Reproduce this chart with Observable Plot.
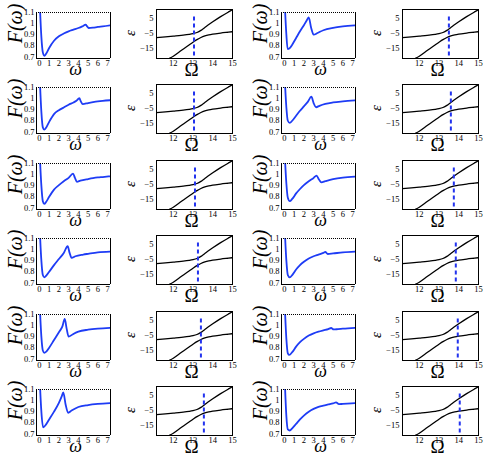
<!DOCTYPE html>
<html><head><meta charset="utf-8">
<script src="https://cdn.jsdelivr.net/npm/d3@7"></script>
<script src="https://cdn.jsdelivr.net/npm/@observablehq/plot@0.6"></script>
<style>
body{margin:0;background:#fff;}
#root{position:relative;width:484px;height:453px;overflow:hidden;background:#fff;}
#root svg{position:absolute;overflow:visible;background:transparent;}
</style></head><body><div id="root"></div>
<script>
// ---- tick labels ----
const omegaTicks = [0,1,2,3,4,5,6,7];
const fTicks = [0.7,0.8,0.9,1,1.1];
const bigOmegaTicks = [12,13,14,15];
const epsTicks = [5,-5,-15];

// ---- avoided-crossing branches (same in every ε panel) ----
const upperOmega = [11.15, 11.6, 12.0, 12.4, 12.8, 13.0, 13.2, 13.4, 13.6, 13.8, 14.0, 14.4, 14.8, 15.0];
const upperEps   = [-8.0, -7.5, -7.0, -6.5, -5.9, -5.4, -4.6, -3.2, -1.3, 0.6, 2.4, 5.8, 8.9, 10.4];
const lowerOmega = [11.8, 12.0, 12.4, 12.8, 13.0, 13.2, 13.4, 13.6, 13.8, 14.0, 14.4, 14.8, 15.0];
const lowerEps   = [-21.6, -20.2, -16.5, -12.8, -11.0, -9.3, -7.9, -6.9, -6.2, -5.7, -5.0, -4.4, -4.1];

// ---- dashed marker positions (Ω) per row ----
const dashCol2 = [13.05, 13.05, 13.1, 13.25, 13.4, 13.55];
const dashCol4 = [13.5, 13.6, 13.75, 13.85, 13.95, 14.05];

// ---- F(ω) curves, column 1 ----
const w11 = [0.05,0.2,0.35,0.5,0.7,1.0,1.5,2.0,2.5,3.0,3.5,4.0,4.4,4.75,4.9,5.05,5.5,6.0,6.5,7.3];
const F11 = [1.15,0.88,0.74,0.71,0.73,0.78,0.845,0.885,0.91,0.93,0.945,0.96,0.975,0.99,0.975,0.96,0.963,0.97,0.975,0.985];
const w21 = [0.05,0.2,0.35,0.5,0.7,1.0,1.5,2.0,2.5,3.0,3.5,3.8,4.1,4.25,4.45,5.0,5.5,6.0,6.5,7.3];
const F21 = [1.15,0.88,0.74,0.72,0.74,0.79,0.86,0.895,0.92,0.945,0.965,0.98,1.003,0.975,0.95,0.96,0.968,0.975,0.98,0.985];
const w31 = [0.05,0.2,0.35,0.5,0.7,1.0,1.5,2.0,2.5,3.0,3.45,3.65,3.85,4.2,5.0,5.5,6.0,6.5,7.3];
const F31 = [1.15,0.9,0.76,0.735,0.755,0.8,0.865,0.905,0.94,0.97,1.008,0.97,0.935,0.945,0.96,0.968,0.974,0.978,0.985];
const w41 = [0.05,0.2,0.35,0.5,0.7,1.0,1.5,2.0,2.5,2.9,3.1,3.3,3.7,4.5,5.0,6.0,7.3];
const F41 = [1.15,0.9,0.77,0.75,0.765,0.8,0.86,0.915,0.97,1.03,0.97,0.925,0.94,0.955,0.962,0.975,0.982];
const w51 = [0.05,0.2,0.35,0.5,0.7,1.0,1.5,2.0,2.35,2.6,2.8,3.0,3.4,4.0,5.0,6.0,7.3];
const F51 = [1.15,0.9,0.775,0.755,0.765,0.8,0.87,0.94,0.99,1.06,0.97,0.9,0.92,0.945,0.963,0.973,0.98];
const w61 = [0.05,0.2,0.38,0.6,1.0,1.5,2.0,2.3,2.45,2.7,2.95,3.3,4.0,5.0,6.0,7.3];
const F61 = [1.15,0.9,0.758,0.775,0.83,0.9,0.98,1.04,1.074,0.96,0.89,0.91,0.942,0.96,0.97,0.977];

// ---- F(ω) curves, column 3 ----
const w13 = [0.05,0.2,0.33,0.5,0.8,1.2,1.6,2.0,2.3,2.5,2.75,3.0,3.4,4.0,5.0,6.0,7.3];
const F13 = [1.15,0.9,0.77,0.775,0.81,0.87,0.93,0.985,1.03,1.055,0.96,0.9,0.915,0.94,0.962,0.975,0.985];
const w23 = [0.05,0.2,0.35,0.55,0.8,1.2,1.6,2.0,2.4,2.77,3.0,3.25,3.6,4.2,5.0,6.0,7.3];
const F23 = [1.15,0.92,0.8,0.78,0.8,0.845,0.89,0.93,0.97,1.017,0.96,0.922,0.935,0.952,0.965,0.975,0.985];
const w33 = [0.05,0.2,0.35,0.55,0.8,1.2,1.6,2.0,2.5,3.0,3.3,3.55,3.8,4.2,5.0,6.0,7.3];
const F33 = [1.15,0.92,0.79,0.76,0.78,0.83,0.87,0.905,0.94,0.97,0.99,0.955,0.93,0.94,0.958,0.972,0.982];
const w43 = [0.05,0.2,0.35,0.55,0.8,1.2,1.6,2.0,2.5,3.0,3.5,4.0,4.2,4.45,5.0,6.0,7.3];
const F43 = [1.15,0.9,0.77,0.75,0.77,0.82,0.86,0.89,0.92,0.94,0.955,0.97,0.978,0.96,0.965,0.975,0.982];
const w53 = [0.05,0.2,0.35,0.5,0.8,1.2,1.6,2.0,2.5,3.0,3.5,4.0,4.5,4.8,5.05,5.5,6.0,7.3];
const F53 = [1.15,0.88,0.75,0.735,0.76,0.81,0.85,0.88,0.91,0.93,0.945,0.957,0.968,0.978,0.965,0.968,0.972,0.98];
const w63 = [0.05,0.2,0.35,0.55,0.8,1.2,1.6,2.0,2.5,3.0,3.5,4.0,4.5,5.0,5.3,5.6,6.0,7.3];
const F63 = [1.15,0.86,0.74,0.73,0.75,0.79,0.83,0.865,0.9,0.925,0.943,0.955,0.965,0.975,0.983,0.968,0.97,0.977];

const col1 = [[w11,F11],[w21,F21],[w31,F31],[w41,F41],[w51,F51],[w61,F61]];
const col3 = [[w13,F13],[w23,F23],[w33,F33],[w43,F43],[w53,F53],[w63,F63]];

const root = document.getElementById("root");
const ROW = 75.4;
const SERIF = "'Liberation Serif', 'DejaVu Serif', serif";
const minusFmt = d => d < 0 ? "\u2212" + Math.abs(d) : String(d);

function place(svg, left, top) {
  svg.style.left = left + "px";
  svg.style.top = top + "px";
  root.appendChild(svg);
}

function fPanel([w, F], left, top) {
  const pts = w.map((x, i) => [x, F[i]]);
  const svg = Plot.plot({
    width: 122, height: 75,
    marginLeft: 36, marginRight: 12, marginTop: 12, marginBottom: 17,
    style: {fontFamily: SERIF, fontSize: "8.5px", background: "transparent", overflow: "visible", color: "black"},
    x: {domain: [-0.3, 7.3], ticks: omegaTicks, tickSize: 0, tickPadding: 1, label: null, tickFormat: d => String(d)},
    y: {domain: [0.685, 1.1], ticks: fTicks, tickSize: 0, tickPadding: 2, label: null, tickFormat: d => String(d)},
    marks: [
      Plot.line(pts, {stroke: "#1e3cf5", strokeWidth: 1.8, curve: "monotone-x", clip: true}),
      Plot.ruleX([-0.3], {stroke: "black", strokeWidth: 1}),
      Plot.ruleX([7.3], {stroke: "black", strokeWidth: 1}),
      Plot.ruleY([0.685], {stroke: "black", strokeWidth: 1}),
      Plot.ruleY([1.1], {stroke: "black", strokeWidth: 1.2, strokeDasharray: "1,1"}),
      Plot.text(["F(\u03c9)"], {frameAnchor: "left", textAnchor: "middle", lineAnchor: "middle", dx: -21, dy: -12, rotate: -90, fontSize: 20, fontStyle: "italic", fontFamily: SERIF, fill: "black"}),
      Plot.text(["\u03c9"], {frameAnchor: "bottom", textAnchor: "middle", lineAnchor: "middle", dx: 2, dy: 11, fontSize: 18, fontStyle: "italic", fontFamily: SERIF, fill: "black"})
    ]
  });
  place(svg, left, top);
}

function ePanel(dash, left, top) {
  const up = upperOmega.map((x, i) => [x, upperEps[i]]);
  const lo = lowerOmega.map((x, i) => [x, lowerEps[i]]);
  const svg = Plot.plot({
    width: 120, height: 75,
    marginLeft: 36, marginRight: 8, marginTop: 9, marginBottom: 17,
    style: {fontFamily: SERIF, fontSize: "8.5px", background: "transparent", overflow: "visible", color: "black"},
    x: {domain: [11.15, 15], ticks: bigOmegaTicks, tickSize: 0, tickPadding: 1, label: null, tickFormat: d => String(d)},
    y: {domain: [-21.7, 10.5], ticks: epsTicks, tickSize: 0, tickPadding: 3, label: null, tickFormat: minusFmt},
    marks: [
      Plot.line(up, {stroke: "black", strokeWidth: 1.3, curve: "monotone-x", clip: true}),
      Plot.line(lo, {stroke: "black", strokeWidth: 1.3, curve: "monotone-x", clip: true}),
      Plot.ruleX([dash], {y1: -20, y2: 5.5, stroke: "#2233ee", strokeWidth: 2, strokeDasharray: "4,3"}),
      Plot.frame({stroke: "black", strokeWidth: 1}),
      Plot.text(["\u03b5"], {frameAnchor: "left", textAnchor: "middle", lineAnchor: "middle", dx: -26, dy: -1, rotate: -90, fontSize: 15, fontStyle: "italic", fontFamily: SERIF, fill: "black"}),
      Plot.text(["\u03a9"], {frameAnchor: "bottom", textAnchor: "middle", lineAnchor: "middle", dx: -3, dy: 11, fontSize: 19, fontFamily: SERIF, fill: "black"})
    ]
  });
  place(svg, left, top);
}

for (let r = 0; r < 6; r++) {
  const top = r * ROW;
  fPanel(col1[r], 0, top);
  ePanel(dashCol2[r], 120, top);
  fPanel(col3[r], 245, top);
  ePanel(dashCol4[r], 366, top);
}
</script></body></html>
